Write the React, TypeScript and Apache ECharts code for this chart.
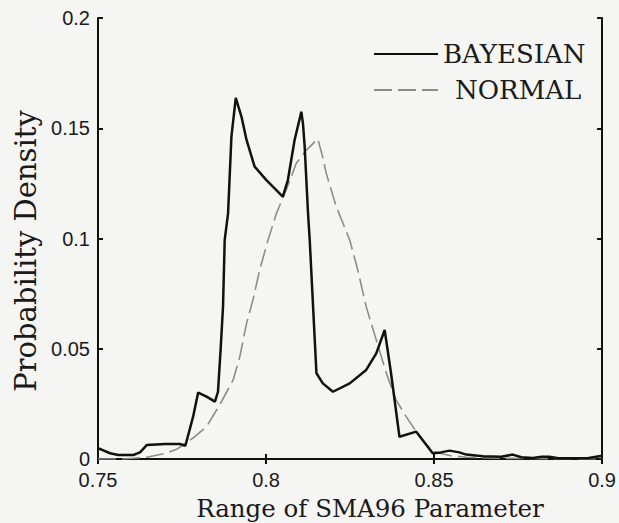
import React, { useEffect, useRef } from "react";
import * as echarts from "echarts";

// Density curves over the SMA96 parameter range: [parameter value, density]
const bayesianX = [
  0.75, 0.7536, 0.756, 0.7605, 0.7625, 0.7645, 0.77, 0.7744, 0.776, 0.7783,
  0.7798, 0.7823, 0.7848, 0.7857, 0.7865, 0.7872, 0.7877, 0.7887, 0.7897,
  0.791, 0.7927, 0.7942, 0.7966, 0.8001, 0.805, 0.8065, 0.8085, 0.8105,
  0.811, 0.8115, 0.812, 0.8125, 0.813, 0.8145, 0.815, 0.8169, 0.8199,
  0.8249, 0.8298, 0.8328, 0.8353, 0.8372, 0.8397, 0.8447, 0.8496, 0.852,
  0.8546, 0.8575, 0.8596, 0.8645, 0.87, 0.8734, 0.876, 0.8794, 0.882,
  0.8843, 0.887, 0.896, 0.9,
];
const bayesianY = [
  0.0049, 0.0026, 0.0018, 0.0018, 0.003, 0.0063, 0.0068, 0.0068, 0.006, 0.0192,
  0.0301, 0.0283, 0.026, 0.0305, 0.05, 0.0691, 0.0993, 0.1114, 0.1462,
  0.1638, 0.1552, 0.1447, 0.1326, 0.1265, 0.119, 0.1265, 0.1447, 0.1575,
  0.152, 0.1416, 0.1265, 0.1114, 0.0993, 0.054, 0.0389, 0.0343, 0.0305,
  0.0343, 0.0404, 0.0479, 0.0585, 0.0389, 0.0101, 0.0124, 0.0026, 0.003,
  0.0038, 0.003, 0.002, 0.0012, 0.001, 0.002, 0.0008, 0.0005, 0.001,
  0.001, 0.0003, 0.0005, 0.0015,
];

const normalX = [
  0.75, 0.7575, 0.7645, 0.77, 0.7734, 0.7788, 0.7823, 0.7862, 0.7902, 0.7922,
  0.7942, 0.7961, 0.7981, 0.8006, 0.8031, 0.806, 0.809, 0.812, 0.8154,
  0.8171, 0.8179, 0.8209, 0.8229, 0.8249, 0.8273, 0.8298, 0.8328, 0.8358,
  0.8387, 0.8417, 0.8457, 0.8496, 0.855, 0.8596, 0.87, 0.9,
];
const normalY = [
  0, 0, 0.0008, 0.0025, 0.0044, 0.0101, 0.0147, 0.0245, 0.0358, 0.0464,
  0.0615, 0.0721, 0.0857, 0.0993, 0.1114, 0.122, 0.1341, 0.1401, 0.1452,
  0.1356, 0.1296, 0.1144, 0.1069, 0.0993, 0.0857, 0.0691, 0.054, 0.0389,
  0.0268, 0.0192, 0.0101, 0.0033, 0.0015, 0.0008, 0.0003, 0,
];

const xTicks = [0.75, 0.8, 0.85, 0.9];
const yTicks = [0, 0.05, 0.1, 0.15, 0.2];

const seriesNames = ["BAYESIAN", "NORMAL"];
const xTitle = "Range of SMA96 Parameter";
const yTitle = "Probability Density";

const pairs = (xs: number[], ys: number[]) => xs.map((x, i) => [x, ys[i]]);
const fmt = (v: number) => String(+v.toFixed(2));

export default function App() {
  const ref = useRef<HTMLDivElement>(null);

  useEffect(() => {
    if (!ref.current) return;
    const chart = echarts.init(ref.current, null, { renderer: "svg" });

    const tickFont = { fontFamily: "Liberation Sans", fontSize: 20, color: "#1a1a1a" };
    const boxLine = { show: true, lineStyle: { color: "#111", width: 2 } };
    const tickIn = { show: true, inside: true, length: 5, lineStyle: { color: "#111", width: 2 } };

    const xBase = {
      type: "value" as const,
      min: xTicks[0],
      max: xTicks[xTicks.length - 1],
      interval: 0.05,
      splitLine: { show: false },
      axisLine: boxLine,
      axisTick: tickIn,
    };
    const yBase = {
      type: "value" as const,
      min: yTicks[0],
      max: yTicks[yTicks.length - 1],
      interval: 0.05,
      splitLine: { show: false },
      axisLine: boxLine,
      axisTick: tickIn,
    };

    chart.setOption({
      animation: false,
      backgroundColor: "#f5f5f3",
      grid: { left: 98, right: 16, top: 18, bottom: 64, containLabel: false },
      xAxis: [
        {
          ...xBase,
          position: "bottom",
          axisLabel: { ...tickFont, margin: 11, formatter: fmt },
        },
        { ...xBase, position: "top", axisLabel: { show: false } },
      ],
      yAxis: [
        {
          ...yBase,
          position: "left",
          axisLabel: { ...tickFont, margin: 8, formatter: fmt },
        },
        { ...yBase, position: "right", axisLabel: { show: false } },
      ],
      legend: {
        orient: "vertical",
        left: 368,
        top: 36,
        itemWidth: 64,
        itemHeight: 14,
        itemGap: 10,
        itemStyle: { opacity: 0 },
        textStyle: { fontFamily: "DejaVu Serif", fontSize: 26, color: "#1a1a1a" },
        data: [
          { name: seriesNames[0] },
          { name: seriesNames[1], textStyle: { padding: [0, 0, 0, 12] } },
        ],
      },
      series: [
        {
          name: seriesNames[0],
          type: "line",
          xAxisIndex: 0,
          yAxisIndex: 0,
          data: pairs(bayesianX, bayesianY),
          symbol: "none",
          lineStyle: { color: "#111", width: 2.5 },
          itemStyle: { color: "#111" },
          z: 3,
        },
        {
          name: seriesNames[1],
          type: "line",
          xAxisIndex: 0,
          yAxisIndex: 0,
          data: pairs(normalX, normalY),
          symbol: "none",
          lineStyle: { color: "#8c8c8c", width: 1.6, type: [18, 6] },
          itemStyle: { color: "#8c8c8c" },
          z: 2,
        },
      ],
      graphic: [
        {
          type: "text",
          x: 370,
          y: 508,
          style: {
            text: xTitle,
            fontFamily: "DejaVu Serif",
            fontSize: 24.5,
            fill: "#1a1a1a",
            textAlign: "center",
            textVerticalAlign: "middle",
          },
        },
        {
          type: "text",
          x: 26,
          y: 251,
          rotation: Math.PI / 2,
          style: {
            text: yTitle,
            fontFamily: "DejaVu Serif",
            fontSize: 29,
            fill: "#1a1a1a",
            textAlign: "center",
            textVerticalAlign: "middle",
          },
        },
      ],
    });

    return () => chart.dispose();
  }, []);

  return (
    <div
      ref={ref}
      style={{ position: "fixed", left: 0, top: 0, width: 619, height: 523 }}
    />
  );
}
